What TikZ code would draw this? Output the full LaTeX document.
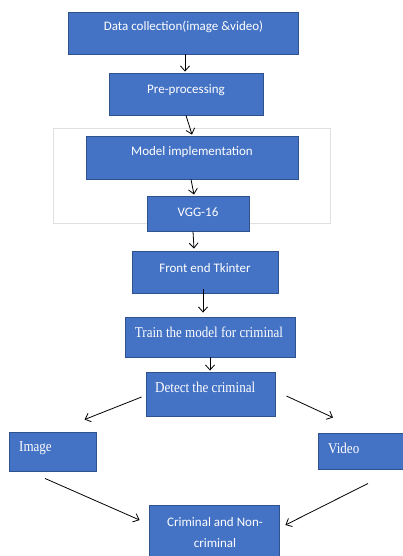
\documentclass[tikz,border=0pt]{standalone}
\usepackage{fontspec}
\setmainfont{Carlito}
\newfontfamily\timesf{Liberation Serif}
\usetikzlibrary{calc,arrows.meta}
\definecolor{boxblue}{HTML}{4472C4}
\definecolor{boxedge}{HTML}{2F528F}
\tikzset{
  box/.style={draw=boxedge, fill=boxblue, line width=0.9pt, inner sep=0pt},
  cal/.style={text=white, font=\fontsize{13}{15}\selectfont, inner sep=0pt},
  tms/.style={text=white, font=\timesf\fontsize{15}{17}\selectfont, inner sep=0pt, xscale=0.87},
  conn/.style={draw=black, line width=0.8pt, -{Straight Barb[length=5pt,width=9pt]}},
}
\begin{document}
\begin{tikzpicture}[x=1pt,y=-1pt]
\useasboundingbox (0,0) rectangle (403,556);
\node[draw=black!12, line width=0.8pt, minimum width=277pt, minimum height=95pt, inner sep=0pt] (frame) at (191.5,175.5) {};
\node[box, minimum width=230pt, minimum height=42pt] (b1) at (183,33) {};
\node[box, minimum width=154pt, minimum height=42pt] (b2) at (186,94) {};
\node[box, minimum width=212pt, minimum height=43pt] (b3) at (192,157.5) {};
\node[box, minimum width=102pt, minimum height=35pt] (b4) at (198,213.5) {};
\node[box, minimum width=146pt, minimum height=42pt] (b5) at (205,272) {};
\node[box, minimum width=170pt, minimum height=40pt] (b6) at (210,337) {};
\node[box, minimum width=129pt, minimum height=44pt] (b7) at (210.5,394) {};
\node[box, minimum width=87pt, minimum height=39pt] (img) at (52.5,451.5) {};
\node[box, minimum width=88pt, minimum height=36pt] (vid) at (362,451) {};
\node[box, minimum width=130pt, minimum height=58pt] (crim) at (214,534) {};

\node[cal] (t1) at (183.5,27) {Data collection(image \&video)};
\node[cal] (t2) at (186,90) {Pre-processing};
\node[cal] (t3) at (192,152) {Model implementation};
\node[cal] (t4) at (198,212) {VGG-16};
\node[cal] (t5) at (205,268) {Front end Tkinter};
\node[tms] (t6) at (209,332) {Train the model for criminal};
\node[tms, anchor=west] (t7) at (155,387) {Detect the criminal};
\node[tms, anchor=west] (t8) at (19,448) {Image};
\node[tms, anchor=west] (t9) at (328,448) {Video};
\node[cal, align=center, font=\fontsize{13}{21}\selectfont] (t10) at (215,532.5) {Criminal and Non-\\criminal};

\draw[conn] ($(b1.south)+(2,0)$) -- ($(b2.north)+(-1,-1)$);
\draw[conn] (b2.south) -- ($(b3.north)+(0,-1)$);
\draw[conn] ($(b3.south)+(-1,0)$) -- ($(b4.north)+(-4,-1)$);
\draw[conn] ($(b4.south)+(-5,0)$) -- ($(b5.north)+(-11,-2)$);
\draw[conn] ($(b5.south)+(-2,-4)$) -- ($(b6.north)+(-7,-4)$);
\draw[conn] (b6.south) -- ($(b7.north)+(-0.5,-1)$);
\draw[conn] ($(b7.west)+(-4,3)$) -- ($(img.north)+(32,-12)$);
\draw[conn] ($(b7.east)+(11,2)$) -- ($(vid.north)+(-29,-15)$);
\draw[conn] ($(img.south)+(-7.5,7)$) -- ($(crim.west)+(-9,-14)$);
\draw[conn] ($(vid.south)+(6,14)$) -- ($(crim.east)+(6,-9)$);
\end{tikzpicture}
\end{document}
